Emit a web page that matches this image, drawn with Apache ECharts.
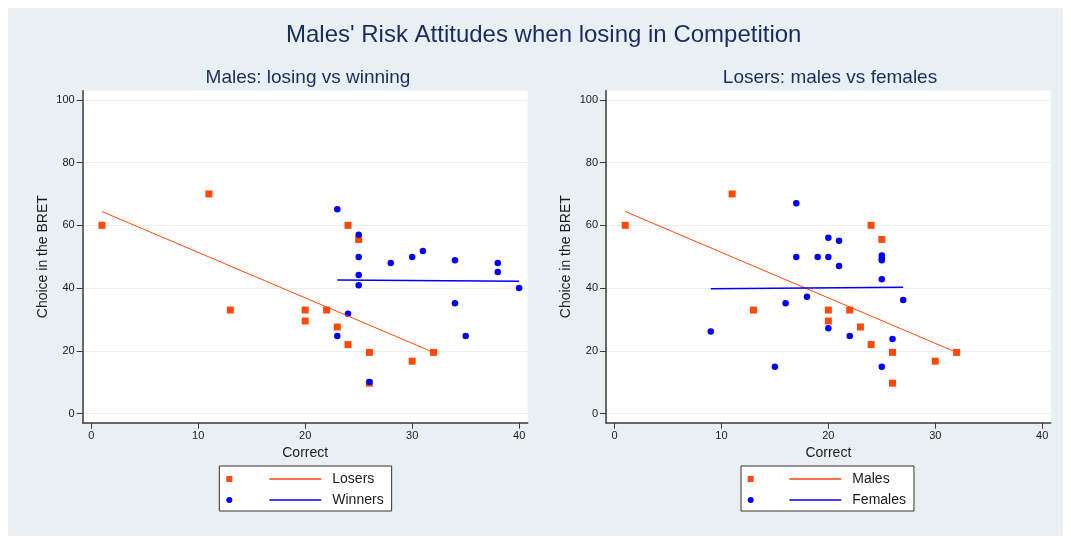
<!DOCTYPE html>
<html><head><meta charset="utf-8">
<script src="https://cdn.jsdelivr.net/npm/echarts@6/dist/echarts.min.js"></script>
<style>html,body{margin:0;padding:0;background:#fff}#c{width:1071px;height:540px}</style>
</head><body><div id="c"></div>
<script>
// ---- data ----
const xTicks = [0, 10, 20, 30, 40];
const yTicks = [0, 20, 40, 60, 80, 100];

const maleLosers = [[1,60],[11,70],[13,33],[20,33],[20,29.5],[22,33],[23,27.6],[24,60],[24,22],[25,55.5],[26,19.5],[26,9.7],[30,16.7],[32,19.5]];
const maleWinners = [[23,65.1],[25,57],[25,49.9],[25,44.2],[25,40.9],[24,31.8],[23,24.7],[26,10.1],[28,48],[30,49.9],[31,51.8],[34,48.9],[34,35.2],[35,24.7],[38,48],[38,45.1],[40,40]];
const femaleLosers = [[17,67],[20,56.05],[21,55.1],[17,49.9],[19,49.9],[20,49.9],[21,47],[25,50.4],[25,49.4],[25,48.9],[25,42.8],[16,35.2],[18,37.2],[27,36.2],[20,27.2],[22,24.7],[26,23.8],[9,26.2],[15,14.9],[25,14.9]];

const maleLosersFit = [[1,64.4],[32,19.5]];
const maleWinnersFit = [[23,42.6],[40,42.2]];
const femaleLosersFit = [[9,39.8],[27,40.3]];

const mainTitle = "Males' Risk Attitudes when losing in Competition";
const subTitles = ["Males: losing vs winning", "Losers: males vs females"];
const legendNames = [["Losers", "Winners"], ["Males", "Females"]];

// ---- styling ----
const FONT = "'Liberation Sans', Arial, sans-serif";
const ORANGE = '#ff4a0a';
const BLUE = '#0000ff';
const AXIS = '#3a3a3a';
const TXT = '#1a1a1a';

function xAxisDef(idx) {
  return {
    gridIndex: idx, type: 'value', min: -0.8, max: 40.8,
    name: 'Correct', nameLocation: 'middle', nameGap: 16,
    nameTextStyle: { fontFamily: FONT, fontSize: 14, color: TXT },
    axisLine: { show: true, onZero: false, lineStyle: { color: AXIS, width: 1.5 } },
    axisTick: { show: true, length: 6, customValues: xTicks, lineStyle: { color: AXIS, width: 1 } },
    axisLabel: { customValues: xTicks, fontFamily: FONT, fontSize: 11, color: TXT, margin: 8 },
    splitLine: { show: false }
  };
}
function yAxisDef(idx) {
  return {
    gridIndex: idx, type: 'value', min: -2.9, max: 102.9,
    name: 'Choice in the BRET', nameLocation: 'middle', nameGap: 33, nameRotate: 90,
    nameTextStyle: { fontFamily: FONT, fontSize: 14, color: TXT },
    axisLine: { show: true, onZero: false, lineStyle: { color: AXIS, width: 1.5 } },
    axisTick: { show: true, length: 6, customValues: yTicks, lineStyle: { color: AXIS, width: 1 } },
    axisLabel: { customValues: yTicks, fontFamily: FONT, fontSize: 11, color: TXT, margin: 8 },
    splitLine: { show: true, lineStyle: { color: '#e8eef1', width: 1 } }
  };
}
function scatter(name, data, idx, symbol, color, size) {
  return { type: 'scatter', name, data, xAxisIndex: idx, yAxisIndex: idx,
    symbol, symbolSize: size, itemStyle: { color, opacity: 1 }, z: 3 };
}
function fitLine(name, data, idx, color, width) {
  return { type: 'line', name, data, xAxisIndex: idx, yAxisIndex: idx,
    symbol: 'none', lineStyle: { color, width }, itemStyle: { color }, z: 4 };
}
function markerLegend(names, left) {
  return { data: names, orient: 'vertical', left, top: 466, padding: [6, 0, 4, 0],
    itemWidth: 6, itemHeight: 6, itemGap: 7, selectedMode: false,
    itemStyle: { opacity: 1 },
    formatter: () => ' ', textStyle: { fontFamily: FONT, fontSize: 14, color: TXT }, z: 6 };
}
function lineLegend(names, left, padLeft) {
  return { data: names.map(n => n + ' fit'), orient: 'vertical', left, top: 466,
    icon: 'rect', padding: [6, 8, 4, padLeft], itemWidth: 52, itemHeight: 1.5, itemGap: 7,
    selectedMode: false, formatter: n => n.replace(' fit', ''),
    textStyle: { fontFamily: FONT, fontSize: 14, color: TXT, padding: [0, 0, 0, 6] },
    backgroundColor: '#ffffff', borderColor: '#333333', borderWidth: 1, z: 5 };
}

const chart = echarts.init(document.getElementById('c'), null, { renderer: 'canvas' });
chart.setOption({
  animation: false,
  backgroundColor: '#ffffff',
  graphic: [
    { type: 'rect', z: -10, shape: { x: 8, y: 8, width: 1055, height: 528 }, style: { fill: '#e9f0f3' } },
    { type: 'text', z: 10, x: 543.7, y: 35.5, style: { text: mainTitle, font: '24px ' + FONT, fill: '#1c2c5a', textAlign: 'center', textVerticalAlign: 'middle' } },
    { type: 'text', z: 10, x: 308, y: 78, style: { text: subTitles[0], font: '19px ' + FONT, fill: '#1c2c5a', textAlign: 'center', textVerticalAlign: 'middle' } },
    { type: 'text', z: 10, x: 830, y: 78, style: { text: subTitles[1], font: '19px ' + FONT, fill: '#1c2c5a', textAlign: 'center', textVerticalAlign: 'middle' } }
  ],
  grid: [
    { left: 82.7, top: 90.7, width: 445, height: 332, show: true, backgroundColor: '#ffffff', borderWidth: 0 },
    { left: 606, top: 90.7, width: 444.7, height: 332, show: true, backgroundColor: '#ffffff', borderWidth: 0 }
  ],
  xAxis: [xAxisDef(0), xAxisDef(1)],
  yAxis: [yAxisDef(0), yAxisDef(1)],
  legend: [
    markerLegend(legendNames[0], 226.3),
    lineLegend(legendNames[0], 219.3, 50),
    markerLegend(legendNames[1], 747.7),
    lineLegend(legendNames[1], 741, 48.3)
  ],
  series: [
    scatter('Losers', maleLosers, 0, 'rect', ORANGE, 7),
    scatter('Winners', maleWinners, 0, 'circle', BLUE, 6.5),
    fitLine('Losers fit', maleLosersFit, 0, ORANGE, 1),
    fitLine('Winners fit', maleWinnersFit, 0, BLUE, 1.5),
    scatter('Males', maleLosers, 1, 'rect', ORANGE, 7),
    scatter('Females', femaleLosers, 1, 'circle', BLUE, 6.5),
    fitLine('Males fit', maleLosersFit, 1, ORANGE, 1),
    fitLine('Females fit', femaleLosersFit, 1, BLUE, 1.5)
  ]
});
</script>
</body></html>
